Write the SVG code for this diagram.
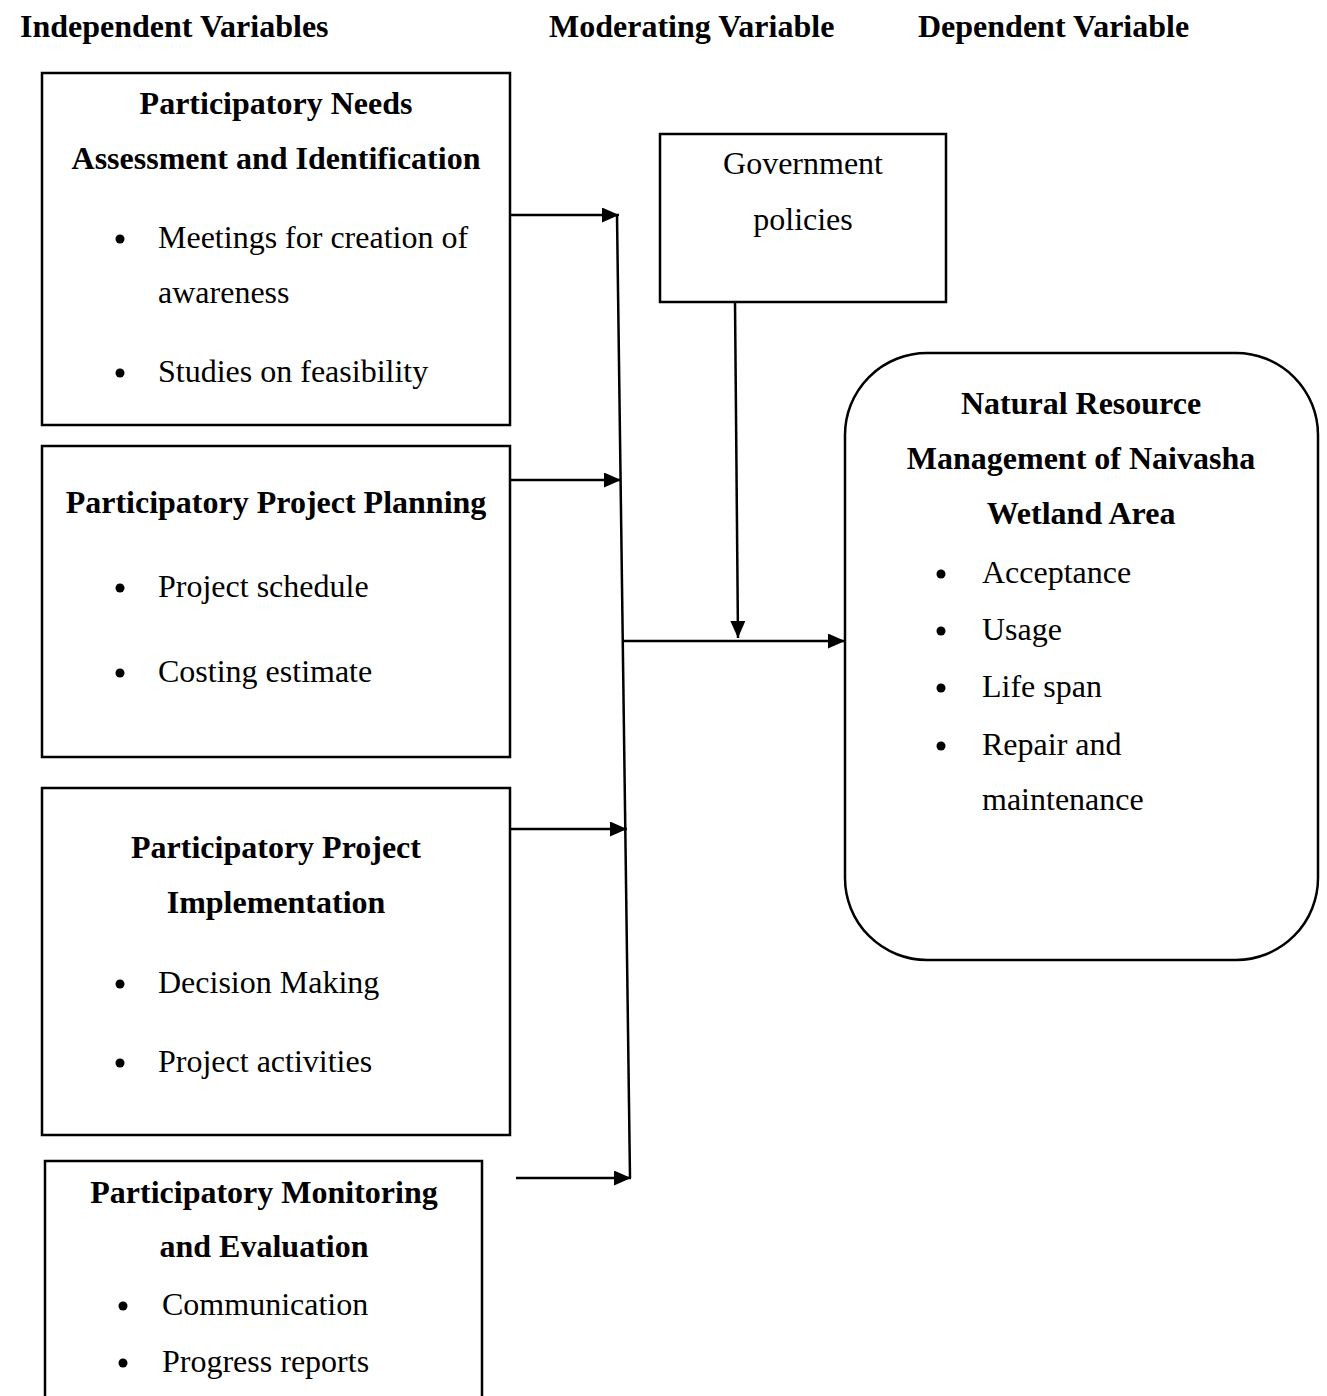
<svg xmlns="http://www.w3.org/2000/svg" width="1327" height="1396" viewBox="0 0 1327 1396">
<style>
text{font-family:"Liberation Serif","Times New Roman",serif;font-size:32px;fill:#000}
.b{font-weight:bold}
.c{text-anchor:middle}
.box{fill:#fff;stroke:#000;stroke-width:2.5}
.ln{stroke:#000;stroke-width:2.5;fill:none}
</style>
<defs>
<marker id="ah2" markerWidth="17" markerHeight="15" refX="17" refY="7.5" orient="auto" markerUnits="userSpaceOnUse" viewBox="0 0 17 15">
<path d="M0,0 L17,7.5 L0,15 Z" fill="#000"/>
</marker>
</defs>
<g id="headers">
<text class="b" x="20" y="37">Independent Variables</text>
<text class="b" x="549" y="37">Moderating Variable</text>
<text class="b" x="918" y="37">Dependent Variable</text>
</g>
<g id="needs">
<rect class="box" x="42" y="73" width="468" height="352"/>
<text class="b c" x="276" y="114">Participatory Needs</text>
<text class="b c" x="276" y="169">Assessment and Identification</text>
<circle cx="120" cy="239" r="4.5"/>
<text x="158" y="248">Meetings for creation of</text>
<text x="158" y="303">awareness</text>
<circle cx="120" cy="373" r="4.5"/>
<text x="158" y="382">Studies on feasibility</text>
</g>
<g id="planning">
<rect class="box" x="42" y="446" width="468" height="311"/>
<text class="b c" x="276" y="513">Participatory Project Planning</text>
<circle cx="120" cy="588" r="4.5"/>
<text x="158" y="597">Project schedule</text>
<circle cx="120" cy="673" r="4.5"/>
<text x="158" y="682">Costing estimate</text>
</g>
<g id="implementation">
<rect class="box" x="42" y="788" width="468" height="347"/>
<text class="b c" x="276" y="858">Participatory Project</text>
<text class="b c" x="276" y="913">Implementation</text>
<circle cx="120" cy="984" r="4.5"/>
<text x="158" y="993">Decision Making</text>
<circle cx="120" cy="1063" r="4.5"/>
<text x="158" y="1072">Project activities</text>
</g>
<g id="monitoring">
<rect class="box" x="45" y="1161" width="437" height="260"/>
<text class="b c" x="264" y="1203">Participatory Monitoring</text>
<text class="b c" x="264" y="1257">and Evaluation</text>
<circle cx="123" cy="1306" r="4.5"/>
<text x="162" y="1315">Communication</text>
<circle cx="123" cy="1363" r="4.5"/>
<text x="162" y="1372">Progress reports</text>
</g>
<g id="government">
<rect class="box" x="660" y="134" width="286" height="168"/>
<text class="c" x="803" y="174">Government</text>
<text class="c" x="803" y="230">policies</text>
</g>
<g id="nrm">
<rect class="box" x="845" y="353" width="473" height="607" rx="82" ry="82"/>
<text class="b c" x="1081" y="414">Natural Resource</text>
<text class="b c" x="1081" y="469">Management of Naivasha</text>
<text class="b c" x="1081" y="524">Wetland Area</text>
<circle cx="941" cy="574" r="4.5"/>
<text x="982" y="583">Acceptance</text>
<circle cx="941" cy="631" r="4.5"/>
<text x="982" y="640">Usage</text>
<circle cx="941" cy="688" r="4.5"/>
<text x="982" y="697">Life span</text>
<circle cx="941" cy="746" r="4.5"/>
<text x="982" y="755">Repair and</text>
<text x="982" y="810">maintenance</text>
</g>
<g id="connectors">
<line class="ln" x1="617" y1="215" x2="630" y2="1178"/>
<line class="ln" x1="510" y1="215" x2="619" y2="215" marker-end="url(#ah2)"/>
<line class="ln" x1="510" y1="480" x2="621" y2="480" marker-end="url(#ah2)"/>
<line class="ln" x1="510" y1="829" x2="627" y2="829" marker-end="url(#ah2)"/>
<line class="ln" x1="516" y1="1178" x2="631" y2="1178" marker-end="url(#ah2)"/>
<line class="ln" x1="622" y1="641" x2="845" y2="641" marker-end="url(#ah2)"/>
<line class="ln" x1="735" y1="302" x2="738" y2="638" marker-end="url(#ah2)"/>
</g>
</svg>
